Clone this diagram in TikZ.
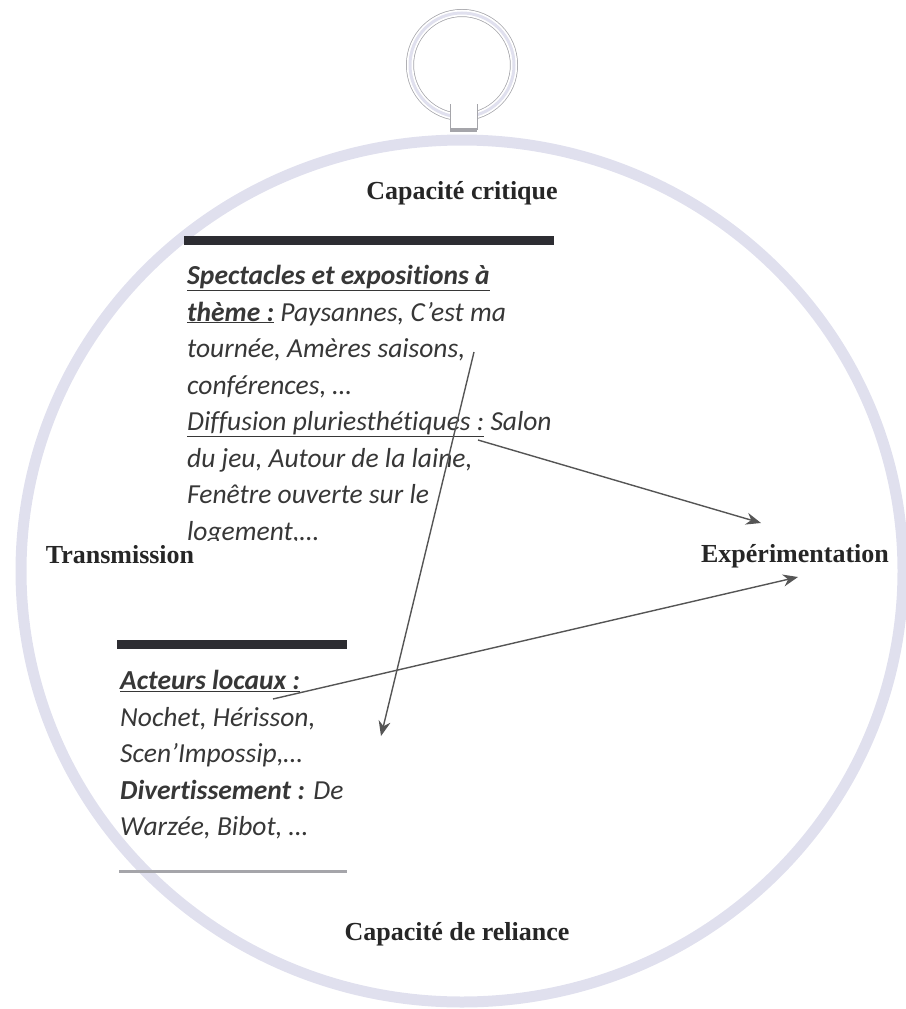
\documentclass[tikz,border=0pt]{standalone}
\usepackage{fontspec}
\setmainfont{Liberation Serif}
\newfontfamily\bodyfont[Ligatures=NoCommon]{Carlito}
\usetikzlibrary{arrows.meta}
\definecolor{rimcol}{RGB}{224,224,238}
\definecolor{ringedge}{RGB}{165,165,170}
\definecolor{barcol}{RGB}{45,45,50}
\definecolor{inkcol}{RGB}{55,55,55}
\definecolor{arrowcol}{RGB}{85,85,85}
\tikzset{
  axislabel/.style={font=\fontsize{26}{30}\selectfont\bfseries,text=black!85,inner sep=0pt,anchor=base},
  bodytext/.style={font=\bodyfont\fontsize{27.5}{36.5}\selectfont\itshape,text=inkcol,align=left,inner sep=0pt,anchor=north west},
  flow/.style={draw=arrowcol,line width=1.4pt,-{Stealth[length=15pt,width=12pt]}},
  heavybar/.style={fill=barcol,draw=none},
}
\begin{document}
\begin{tikzpicture}[x=1pt,y=-1pt]
\useasboundingbox (0,0) rectangle (905,1009);
% rim and pendant ring
\draw[rimcol,line width=11pt] (462,571) ellipse[x radius=441,y radius=431];
\draw[ringedge,line width=8pt] (462,65) circle[radius=52];
\draw[white,line width=6.5pt] (462,65) circle[radius=52];
\draw[rimcol,line width=3pt] (462,65) circle[radius=52];
\fill[white] (450,102) rectangle (477,130);
\draw[ringedge,line width=.8pt] (450,104) -- (450,130) (477,104) -- (477,130);
\fill[ringedge] (450,128) rectangle (477,132);
% axis labels
\node[axislabel] (top) at (462,199) {Capacité critique};
\node[axislabel] (left) at (120,563) {Transmission};
\node[axislabel] (right) at (795,562) {Expérimentation};
\node[axislabel] (bottom) at (457,940) {Capacité de reliance};
% upper block
\fill[heavybar] (184,236) rectangle (554,245);
\fill[heavybar] (117,640) rectangle (347,649);
\fill[ringedge] (119,870) rectangle (347,873);
\node[bodytext] (upper) at (187,265) {\underline{\textbf{\textit{Spectacles et expositions à}}}\\
\underline{\textbf{\textit{thème :}}} Paysannes, C’est ma\\
tournée, Amères saisons,\\
conférences, …\\
\underline{Diffusion pluriesthétiques :} Salon\\
du jeu, Autour de la laine,\\
Fenêtre ouverte sur le\\
logement,…};
\fill[white] (187,541) rectangle (300,545);
\node[bodytext] (lower) at (120,670) {\underline{\textbf{Acteurs locaux :}}\\
Nochet, Hérisson,\\
Scen’Impossip,…\\
\textbf{Divertissement :} De\\
Warzée, Bibot, …};
% connectors
\coordinate (a1) at (474,352);
\coordinate (a2) at (381,736);
\coordinate (b1) at (478,440);
\coordinate (b2) at (761,523);
\coordinate (c1) at (273,699);
\coordinate (c2) at (798,577);
\draw[flow] (a1) -- (a2);
\draw[flow] (b1) -- (b2);
\draw[flow] (c1) -- (c2);
\end{tikzpicture}
\end{document}
